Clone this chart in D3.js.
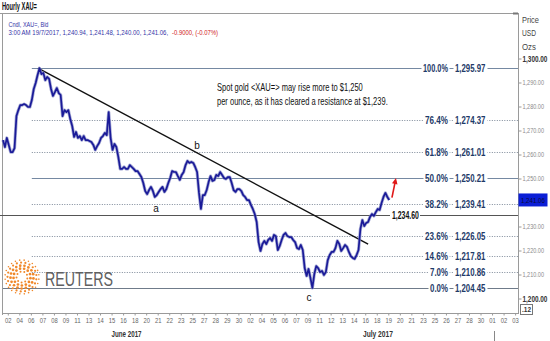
<!DOCTYPE html>
<html>
<head>
<meta charset="utf-8">
<script src="https://cdn.jsdelivr.net/npm/d3@7"></script>
<style>
  html, body { margin: 0; padding: 0; background: #fff; }
  svg { display: block; }
</style>
</head>
<body>
<svg id="chart" width="550" height="341"></svg>
<script>
// Hourly closing prices of spot gold (XAU=), one value per bar slot
const closes = [
  1266.0, 1263.1, 1266.9, 1264.0, 1261.0, 1261.0, 1262.7, 1276.0, 1278.5, 1280.6,
  1280.6, 1281.0, 1280.6, 1279.8, 1279.8, 1282.7, 1287.3, 1289.8, 1293.1, 1295.97,
  1293.5, 1294.0, 1291.0, 1292.3, 1291.5, 1287.3, 1284.4, 1286.0, 1287.7, 1285.6,
  1284.8, 1276.0, 1278.5, 1277.7, 1278.5, 1274.8, 1271.9, 1267.3, 1269.4, 1266.9,
  1267.7, 1266.0, 1267.7, 1266.0, 1266.0, 1265.6, 1265.2, 1264.0, 1261.9, 1263.5,
  1264.8, 1266.9, 1267.7, 1269.0, 1268.1, 1277.7, 1266.9, 1261.9, 1264.4, 1263.1,
  1259.0, 1254.0, 1254.0, 1254.8, 1254.0, 1254.0, 1255.6, 1254.8, 1254.0, 1253.1,
  1253.1, 1251.9, 1250.6, 1248.1, 1244.8, 1243.5, 1245.2, 1246.5, 1244.8, 1242.3,
  1243.1, 1244.4, 1245.6, 1246.5, 1244.4, 1245.6, 1248.1, 1250.2, 1253.1, 1252.7,
  1252.7, 1251.0, 1249.4, 1251.5, 1252.7, 1255.6, 1257.3, 1256.5, 1256.9, 1256.5,
  1254.8, 1252.7, 1244.0, 1237.3, 1243.1, 1243.1, 1245.2, 1248.5, 1251.0, 1249.0,
  1249.4, 1251.5, 1251.0, 1252.7, 1251.5, 1250.2, 1249.8, 1250.6, 1250.6, 1248.1,
  1245.2, 1244.4, 1245.6, 1245.6, 1244.8, 1243.1, 1242.3, 1241.0, 1241.0, 1239.0,
  1237.3, 1235.2, 1231.9, 1223.5, 1219.8, 1222.7, 1224.0, 1222.7, 1224.4, 1225.2,
  1224.0, 1226.5, 1226.0, 1220.2, 1221.9, 1224.4, 1226.5, 1227.3, 1226.0, 1225.6,
  1225.6, 1224.4, 1223.5, 1221.0, 1220.6, 1222.3, 1220.2, 1212.7, 1209.4, 1212.3,
  1208.5, 1204.45, 1210.2, 1213.5, 1212.7, 1211.0, 1211.5, 1209.8, 1211.0, 1216.0,
  1218.1, 1219.4, 1219.4, 1221.0, 1224.0, 1222.7, 1219.8, 1221.0, 1222.3, 1221.5,
  1219.4, 1217.7, 1216.9, 1216.5, 1218.1, 1220.2, 1229.0, 1232.7, 1230.2, 1231.5,
  1231.9, 1234.0, 1235.2, 1234.4, 1236.0, 1237.3, 1236.9, 1239.8, 1242.3, 1244.0,
  1242.3, 1241.06
];

// Fibonacci retracement levels between the June high and the July low
const fibPct   = ["100.0%", "76.4%", "61.8%", "50.0%", "38.2%", "23.6%", "14.6%", "7.0%", "0.0%"];
const fibPrice = [1295.97, 1274.37, 1261.01, 1250.21, 1239.41, 1226.05, 1217.81, 1210.86, 1204.45];

const resistance = 1234.60;
const lastPrice = 1241.06;

// Falling trendline (bar slot, price) and projected move towards $1,250
const trendStart = [18.2, 1295.97];
const trendEnd   = [190, 1222.7];
const arrowFrom  = [202.4, 1242.0];
const arrowTo    = [204.5, 1250.2];

// Wave labels and the bar slots they mark
const waveNames = ["a", "b", "c"];
const waveSlots = [79.6, 101, 159.3];

// Price axis ticks (1,240 sits under the last-price tag)
const yTicks = [1200, 1210, 1220, 1230, 1250, 1260, 1270, 1280, 1290, 1300];
const dayLabels = ["02","04","06","07","08","09","11","13","14","15","16","18","20","21","22","23","25","27","28","29","30",
                   "02","04","05","06","07","09","11","12","13","14","16","18","19","20","21","23","25","26","27","28","30",
                   "01","02","03"];
const monthLabels = ["June 2017", "July 2017"];

const headerTitle = "Hourly XAU=";
const headerSeries = "Cndl, XAU=, Bid";
const headerQuote = "3:00 AM 19/7/2017, 1,240.94, 1,241.48, 1,240.00, 1,241.06,";
const headerChange = "-0.9000, (-0.07%)";
const noteLines = ["Spot gold <XAU=> may rise more to $1,250",
                   "per ounce, as it has cleared a resistance at $1,239."];

// ---------------------------------------------------------------------------
const FONT = "'Liberation Sans Narrow','Arial Narrow','Liberation Sans',Arial,sans-serif";
const svg = d3.select("#chart");

const plot = { left: 3, right: 518, top: 13, bottom: 313 };
const x = d3.scaleLinear().domain([0, 268]).range([plot.left, plot.right]);
const y = d3.scaleLinear().domain([1193.96, 1318.96]).range([plot.bottom, plot.top]);

// Condense a text horizontally about its anchor point to the given width
function squeeze(sel, w) {
  sel.each(function () {
    const t = d3.select(this);
    const n = this.getComputedTextLength();
    if (!n) return;
    const k = Math.min(1, w / n);
    const x0 = +t.attr("x") || 0;
    t.attr("transform", `translate(${x0 * (1 - k)},0) scale(${k},1)`);
  });
  return sel;
}

// Header block
svg.append("line").attr("x1", 0).attr("x2", plot.right).attr("y1", 13.5).attr("y2", 13.5)
  .attr("stroke", "#9a9a9a");
svg.append("line").attr("x1", 2.5).attr("x2", 2.5).attr("y1", 13.5).attr("y2", plot.bottom + 2)
  .attr("stroke", "#9a9a9a");
squeeze(svg.append("text").attr("x", 2).attr("y", 10.5).text(headerTitle)
  .attr("font-family", FONT).attr("font-size", 10).attr("font-weight", "bold").attr("fill", "#111"), 35);
squeeze(svg.append("text").attr("x", 8.5).attr("y", 27.5).text(headerSeries)
  .attr("font-family", FONT).attr("font-size", 8).attr("fill", "#3535a8"), 40);
squeeze(svg.append("text").attr("x", 8.5).attr("y", 35.5).text(headerQuote)
  .attr("font-family", FONT).attr("font-size", 7.5).attr("fill", "#3535a8"), 160);
squeeze(svg.append("text").attr("x", 172).attr("y", 35.5).text(headerChange)
  .attr("font-family", FONT).attr("font-size", 7.5).attr("fill", "#d02020"), 46);

// Fibonacci levels
const solidLevels = new Set(["100.0%", "50.0%", "0.0%"]);
const fibStart = x(15);
const fib = svg.append("g");
fibPct.forEach((pct, i) => {
  const yy = Math.round(y(fibPrice[i])) + 0.5;
  const solid = solidLevels.has(pct);
  fib.append("line")
    .attr("x1", pct === "0.0%" ? plot.left : fibStart).attr("x2", plot.right)
    .attr("y1", yy).attr("y2", yy)
    .attr("stroke", solid ? (pct === "0.0%" ? "#6f7b8a" : "#7589a2") : "#7c8898")
    .attr("stroke-width", 1)
    .attr("stroke-dasharray", solid ? null : "1,1.5");
});

// Resistance line
const ry = Math.round(y(resistance)) + 0.5;
svg.append("line").attr("x1", 0).attr("x2", plot.right).attr("y1", ry).attr("y2", ry)
  .attr("stroke", "#555").attr("stroke-width", 1);

// Trendline
svg.append("line")
  .attr("x1", x(trendStart[0])).attr("y1", y(trendStart[1]))
  .attr("x2", x(trendEnd[0])).attr("y2", y(trendEnd[1]))
  .attr("stroke", "#111").attr("stroke-width", 1.4);

// Price series
const line = d3.line().x((d, i) => x(i)).y(d => y(d));
svg.append("path").datum(closes).attr("d", line)
  .attr("fill", "none").attr("stroke", "#7d83c2").attr("stroke-width", 3.2)
  .attr("stroke-linejoin", "round").attr("opacity", 0.7);
svg.append("path").datum(closes).attr("d", line)
  .attr("fill", "none").attr("stroke", "#1a1a98").attr("stroke-width", 1.7)
  .attr("stroke-linejoin", "round");

// Projection arrow
const ax1 = x(arrowFrom[0]), ay1 = y(arrowFrom[1]);
const ax2 = x(arrowTo[0]), ay2 = y(arrowTo[1]);
const ang = Math.atan2(ay2 - ay1, ax2 - ax1);
svg.append("line").attr("x1", ax1).attr("y1", ay1)
  .attr("x2", ax2 - 3 * Math.cos(ang)).attr("y2", ay2 - 3 * Math.sin(ang))
  .attr("stroke", "#e01818").attr("stroke-width", 1.6);
const head = [[ax2, ay2],
  [ax2 - 6 * Math.cos(ang) + 2.8 * Math.sin(ang), ay2 - 6 * Math.sin(ang) - 2.8 * Math.cos(ang)],
  [ax2 - 6 * Math.cos(ang) - 2.8 * Math.sin(ang), ay2 - 6 * Math.sin(ang) + 2.8 * Math.cos(ang)]];
svg.append("path").attr("d", "M" + head.join("L") + "Z").attr("fill", "#e01818");

// Fibonacci labels with white backing
const fibLab = svg.append("g").attr("font-family", FONT).attr("font-size", 10.5)
  .attr("font-weight", "bold").attr("fill", "#1e3a68");
fibPct.forEach((pct, i) => {
  const yy = y(fibPrice[i]);
  const pw = pct.length === 6 ? 25 : (pct.length === 5 ? 23 : 18);
  fibLab.append("rect").attr("x", 448 - pw - 1.5).attr("y", yy - 5.5).attr("width", pw + 3).attr("height", 11).attr("fill", "#fff");
  fibLab.append("rect").attr("x", 453.5).attr("y", yy - 5.5).attr("width", 34).attr("height", 11).attr("fill", "#fff");
  squeeze(fibLab.append("text").attr("x", 448).attr("y", yy + 3.8).attr("text-anchor", "end").text(pct), pw);
  squeeze(fibLab.append("text").attr("x", 455).attr("y", yy + 3.8).text(d3.format(",.2f")(fibPrice[i])), 30.5);
});

// Resistance label
svg.append("rect").attr("x", 390).attr("y", ry - 5.5).attr("width", 30).attr("height", 11).attr("fill", "#fff");
squeeze(svg.append("text").attr("x", 392).attr("y", ry + 3.5).text(d3.format(",.2f")(resistance))
  .attr("font-family", FONT).attr("font-size", 10).attr("font-weight", "bold").attr("fill", "#111"), 27);

// Wave labels
const waveOffsets = [12, -7, 10];
waveNames.forEach((name, i) => {
  const s = waveSlots[i];
  const base = name === "b"
    ? y(trendStart[1] + (trendEnd[1] - trendStart[1]) * (s - trendStart[0]) / (trendEnd[0] - trendStart[0]))
    : y(d3.min(closes.slice(Math.floor(s) - 2, Math.floor(s) + 3)));
  svg.append("text").attr("x", x(s)).attr("y", base + waveOffsets[i] + 3)
    .attr("text-anchor", "middle").attr("font-family", FONT).attr("font-size", 10)
    .attr("fill", "#111").text(name);
});

// Commentary
noteLines.forEach((t, i) => {
  squeeze(svg.append("text").attr("x", 217).attr("y", 91.5 + i * 14).text(t)
    .attr("font-family", FONT).attr("font-size", 10).attr("fill", "#111"), i === 0 ? 146 : 171);
});

// Right price axis
svg.append("line").attr("x1", plot.right + 0.5).attr("x2", plot.right + 0.5)
  .attr("y1", plot.top).attr("y2", plot.bottom + 1).attr("stroke", "#9a9a9a");
svg.append("rect").attr("x", 513).attr("y", 12.5).attr("width", 5).attr("height", 2).attr("fill", "#777");
const isMajor = d => d === 1200 || d === 1300;
const yAxis = svg.append("g").attr("transform", `translate(${plot.right + 0.5},0)`)
  .call(d3.axisRight(y).tickValues(yTicks).tickSize(3).tickPadding(1).tickFormat(d3.format(",.2f")));
yAxis.select(".domain").remove();
yAxis.selectAll(".tick line").attr("stroke", "#9a9a9a");
yAxis.selectAll(".tick text")
  .attr("font-family", FONT)
  .attr("font-size", d => isMajor(d) ? 8.5 : 7.5)
  .attr("font-weight", d => isMajor(d) ? "bold" : "normal")
  .attr("fill", d => isMajor(d) ? "#333" : "#8a8a8a")
  .each(function (d) { squeeze(d3.select(this), isMajor(d) ? 25 : 21.5); });
["Price", "USD", "Ozs"].forEach((t, i) => {
  svg.append("text").attr("x", 522).attr("y", 23 + i * 13.5).text(t)
    .attr("font-family", FONT).attr("font-size", 8.5).attr("fill", "#444")
    .call(s => squeeze(s, t === "Price" ? 17 : 14));
});

// Last price tag
const ly = y(lastPrice);
svg.append("rect").attr("x", 518.5).attr("y", ly - 6.5).attr("width", 29).attr("height", 13).attr("fill", "#0b1ed6");
squeeze(svg.append("text").attr("x", 521).attr("y", ly + 3).text(d3.format(",.2f")(lastPrice))
  .attr("font-family", FONT).attr("font-size", 8).attr("fill", "#0a0a3a"), 24);

// Bar-interval badge
svg.append("rect").attr("x", 520.5).attr("y", 304.5).attr("width", 12).attr("height", 10)
  .attr("fill", "#fff").attr("stroke", "#777");
squeeze(svg.append("text").attr("x", 522).attr("y", 312.5).text(".12")
  .attr("font-family", FONT).attr("font-size", 8).attr("font-weight", "bold").attr("fill", "#333"), 9);

// Bottom time axis
svg.append("line").attr("x1", plot.left).attr("x2", plot.right + 1)
  .attr("y1", plot.bottom + 0.5).attr("y2", plot.bottom + 0.5).attr("stroke", "#9a9a9a");
const tickSlots = dayLabels.map((d, k) => 2.5 + 6 * k);
const xAxis = svg.append("g").attr("transform", `translate(0,${plot.bottom + 0.5})`)
  .call(d3.axisBottom(x).tickValues(tickSlots).tickSize(2).tickPadding(2)
    .tickFormat((d, i) => dayLabels[i]));
xAxis.select(".domain").remove();
xAxis.selectAll(".tick line").attr("stroke", "#9a9a9a");
xAxis.selectAll(".tick text").attr("font-family", FONT).attr("font-size", 7.5).attr("fill", "#666")
  .call(s => squeeze(s, 6.5));

const monthCenterTick = [10.3, 32.1];
monthLabels.forEach((m, i) => {
  const s = 2.5 + 6 * monthCenterTick[i];
  squeeze(svg.append("text").attr("x", x(s)).attr("y", 337).attr("text-anchor", "middle").text(m)
    .attr("font-family", FONT).attr("font-size", 8.5).attr("font-weight", "bold").attr("fill", "#333"), 30);
});
const sepX = Math.round(x(2.5 + 6 * 42.15)) + 0.5;
svg.append("line").attr("x1", sepX).attr("x2", sepX).attr("y1", 331).attr("y2", 341).attr("stroke", "#888");

// Reuters mark
const logo = svg.append("g").attr("transform", "translate(22,277)");
const rings = [[5.5, 9, 1.0], [8.5, 13, 1.35], [11.5, 17, 1.35], [14.5, 21, 1.1], [17, 24, 0.8]];
rings.forEach(([r, n, s]) => {
  d3.range(n).forEach(k => {
    const a = (k / n) * 2 * Math.PI + r * 0.3;
    logo.append("circle").attr("cx", r * Math.cos(a)).attr("cy", r * Math.sin(a)).attr("r", s)
      .attr("fill", "#f0882a");
  });
});
squeeze(svg.append("text").attr("x", 45).attr("y", 286).text("REUTERS")
  .attr("font-family", FONT).attr("font-size", 20).attr("fill", "#606060"), 68);
</script>
</body>
</html>
